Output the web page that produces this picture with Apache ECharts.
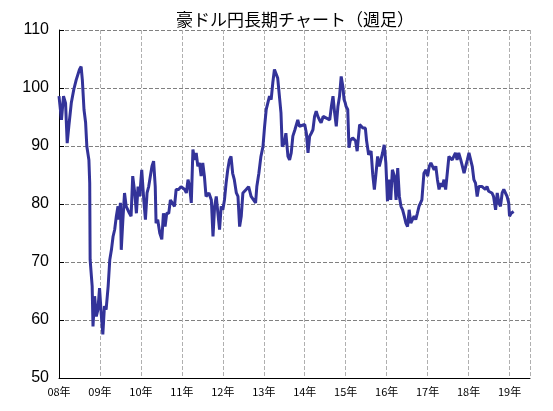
<!DOCTYPE html>
<html><head><meta charset="utf-8">
<script src="https://cdn.jsdelivr.net/npm/echarts@6/dist/echarts.min.js"></script>
<style>html,body{margin:0;padding:0;background:#fff}#c{width:553px;height:411px}</style>
</head><body><div id="c"></div>
<script>
const title = '豪ドル円長期チャート（週足）';
const yearTicks = ['08年','09年','10年','11年','12年','13年','14年','15年','16年','17年','18年','19年'];
const times = [2008.00,2008.06,2008.11,2008.16,2008.20,2008.24,2008.30,2008.36,2008.42,2008.50,2008.54,2008.57,2008.61,2008.65,2008.68,2008.73,2008.75,2008.76,2008.81,2008.83,2008.87,2008.91,2008.95,2008.99,
2009.03,2009.07,2009.11,2009.15,2009.20,2009.24,2009.28,2009.32,2009.36,2009.40,2009.44,2009.46,2009.50,2009.52,2009.56,2009.60,2009.64,2009.72,2009.76,2009.80,2009.85,2009.89,2009.93,2009.97,
2010.02,2010.07,2010.11,2010.15,2010.19,2010.23,2010.27,2010.31,2010.35,2010.37,2010.41,2010.46,2010.51,2010.55,2010.59,2010.63,2010.68,2010.72,2010.76,2010.82,2010.86,2010.92,2010.98,
2011.02,2011.07,2011.11,2011.15,2011.19,2011.23,2011.27,2011.31,2011.35,2011.39,2011.43,2011.47,2011.51,2011.55,2011.59,2011.66,2011.72,2011.76,2011.80,2011.84,2011.88,2011.92,2011.96,
2012.00,2012.04,2012.08,2012.12,2012.16,2012.20,2012.24,2012.28,2012.33,2012.37,2012.41,2012.45,2012.49,2012.57,2012.63,2012.69,2012.75,2012.80,2012.83,2012.88,2012.93,2012.98,
2013.02,2013.06,2013.10,2013.14,2013.18,2013.22,2013.26,2013.30,2013.34,2013.38,2013.42,2013.45,2013.50,2013.54,2013.59,2013.63,2013.67,2013.71,2013.76,2013.83,2013.87,
2014.00,2014.04,2014.08,2014.12,2014.16,2014.20,2014.24,2014.28,2014.32,2014.36,2014.40,2014.45,2014.49,2014.53,2014.57,2014.61,2014.65,2014.69,2014.73,2014.77,2014.81,2014.85,2014.89,2014.93,2014.96,2014.99,
2015.01,2015.05,2015.08,2015.11,2015.17,2015.24,2015.28,2015.34,2015.38,2015.42,2015.48,2015.51,2015.56,2015.62,2015.66,2015.70,2015.74,2015.78,2015.82,2015.86,2015.90,2015.94,2015.98,
2016.02,2016.06,2016.10,2016.14,2016.19,2016.23,2016.27,2016.31,2016.35,2016.39,2016.43,2016.47,2016.51,2016.55,2016.59,2016.63,2016.67,2016.71,2016.75,2016.79,2016.86,2016.91,2016.96,
2017.00,2017.04,2017.08,2017.12,2017.16,2017.20,2017.24,2017.28,2017.32,2017.36,2017.40,2017.44,2017.48,2017.52,2017.56,2017.60,2017.64,2017.68,2017.72,2017.76,2017.81,2017.85,2017.89,2017.93,2017.97,
2018.01,2018.05,2018.09,2018.13,2018.17,2018.21,2018.25,2018.29,2018.33,2018.37,2018.41,2018.45,2018.49,2018.53,2018.57,2018.61,2018.66,2018.70,2018.74,2018.78,2018.82,2018.86,2018.90,2018.94,2018.98,
2019.00,2019.04,2019.06,2019.10];
const rates = [98.6,94.5,98.6,97.4,90.5,93.4,97.4,99.7,101.4,103.2,103.7,101.4,96.3,94.0,89.9,87.6,83.6,70.4,65.8,58.9,64.1,60.6,61.8,65.5,
61.2,57.5,62.4,61.8,65.8,70.4,72.1,74.4,75.6,77.9,79.6,77.3,80.2,72.1,77.3,81.9,79.6,78.4,77.9,84.8,81.9,78.4,83.0,81.3,
85.9,80.7,77.3,81.9,83.0,84.8,86.5,87.4,83.0,76.7,77.3,75.0,73.9,78.4,76.1,78.4,78.4,80.7,80.7,79.6,82.5,82.5,83.0,
83.0,82.5,81.9,84.2,83.0,80.2,89.4,87.6,88.8,86.5,87.1,84.8,87.1,84.8,81.3,81.9,80.7,74.4,79.6,81.3,78.4,75.6,79.6,
79.0,80.7,83.6,85.9,87.6,88.2,85.3,84.2,81.9,81.3,76.1,77.9,81.9,82.5,83.0,81.3,80.7,80.2,83.0,85.3,88.2,89.9,
93.4,96.3,96.3,98.6,98.0,100.9,103.2,103.2,101.7,101.4,95.7,89.9,90.5,92.2,88.2,87.6,88.8,91.7,92.8,94.5,93.4,
93.7,92.2,88.8,91.7,92.2,92.8,95.1,96.0,95.1,94.5,94.0,95.1,95.4,94.8,95.1,94.5,96.8,98.6,95.7,93.4,96.8,98.6,102.0,100.3,98.0,97.4,
96.8,96.3,89.7,90.9,91.4,90.9,89.1,93.7,94.0,93.1,93.1,90.9,88.5,89.1,85.1,82.5,85.3,88.2,86.5,87.6,88.8,90.2,87.1,
80.5,84.2,80.7,85.9,84.8,80.7,86.2,81.3,79.6,79.0,77.9,76.7,76.1,79.0,76.7,77.3,77.9,77.3,78.4,79.6,80.7,85.3,85.9,
84.8,86.5,87.1,86.8,85.9,86.5,84.2,82.5,83.6,83.0,84.2,82.5,85.3,88.2,88.2,87.6,88.2,88.8,87.6,88.8,87.6,86.5,85.3,86.5,87.6,
88.8,88.5,86.5,84.2,83.6,81.3,83.0,83.3,83.0,83.3,82.5,83.0,82.2,82.5,81.9,81.3,79.0,81.9,80.2,79.6,81.9,82.5,82.8,81.3,80.2,
77.9,78.4,78.4,78.7];
const data = times.map((t,i)=>[t,rates[i]]);
const chart = echarts.init(document.getElementById('c'));
chart.setOption({
  animation:false,
  title:{text:title,left:290,top:6,textAlign:'center',textStyle:{fontFamily:'Noto Sans CJK JP',fontSize:17,fontWeight:'normal',color:'#000'}},
  grid:{left:59,right:23,top:30,bottom:33},
  xAxis:{type:'value',min:2008,max:2019.5,interval:1,
    axisLine:{show:true,lineStyle:{color:'#000'}},axisTick:{show:false},
    splitLine:{show:true,lineStyle:{type:'dashed',color:'#b0b0b0'}},
    axisLabel:{fontFamily:'Noto Sans CJK JP',fontSize:11,color:'#000',margin:8,
      formatter:v=>{const i=Math.round(v-2008);return (Math.abs(v-2008-i)<1e-6&&yearTicks[i])?yearTicks[i]:'';}}},
  yAxis:{type:'value',min:50,max:110,interval:10,
    axisLine:{show:true,lineStyle:{color:'#000'}},axisTick:{show:true,inside:true,length:5,lineStyle:{color:'#000'}},
    splitLine:{show:true,lineStyle:{type:'dashed',color:'#808080'}},
    axisLabel:{fontFamily:'Liberation Sans',fontSize:16,color:'#000',margin:10}},
  series:[{type:'line',data:data,showSymbol:false,lineStyle:{color:'#333399',width:3},itemStyle:{color:'#333399'}}]
});
</script></body></html>
